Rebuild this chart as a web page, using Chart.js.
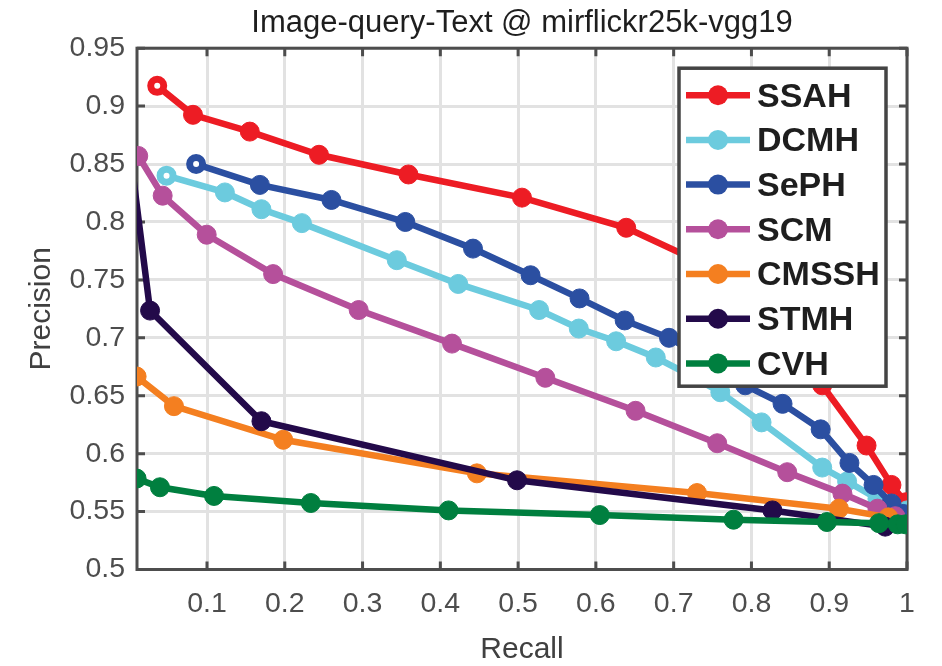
<!DOCTYPE html>
<html>
<head>
<meta charset="utf-8">
<script src="https://cdn.jsdelivr.net/npm/chart.js@4.4.1/dist/chart.umd.min.js"></script>
<style>
  html, body { margin: 0; padding: 0; background: #fff; }
  #wrap { width: 942px; height: 666px; }
</style>
</head>
<body>
<div id="wrap"><canvas id="pr" width="942" height="666"></canvas></div>
<script>
const methods = ['SSAH', 'DCMH', 'SePH', 'SCM', 'CMSSH', 'STMH', 'CVH'];
const colors = ['#ed1c24', '#6ccbde', '#2b4fa1', '#b5509b', '#f47f20', '#230a4a', '#007f3f'];

const ssahRecall = [0.036, 0.082, 0.155, 0.244, 0.359, 0.505, 0.639, 0.735, 0.815, 0.891, 0.948, 0.980, 0.998];
const ssahPrecision = [0.9175, 0.8925, 0.878, 0.858, 0.841, 0.821, 0.795, 0.765, 0.72, 0.659, 0.607, 0.573, 0.558];

const dcmhRecall = [0.048, 0.123, 0.170, 0.222, 0.344, 0.423, 0.527, 0.578, 0.626, 0.677, 0.72, 0.760, 0.813, 0.891, 0.923, 0.962, 1.0];
const dcmhPrecision = [0.840, 0.8255, 0.811, 0.799, 0.767, 0.7465, 0.724, 0.708, 0.697, 0.683, 0.668, 0.653, 0.627, 0.588, 0.576, 0.561, 0.551];

const sephRecall = [0.086, 0.168, 0.260, 0.355, 0.442, 0.516, 0.579, 0.637, 0.694, 0.745, 0.792, 0.840, 0.889, 0.926, 0.957, 0.980, 0.995];
const sephPrecision = [0.850, 0.832, 0.819, 0.800, 0.777, 0.754, 0.734, 0.715, 0.700, 0.68, 0.659, 0.643, 0.621, 0.592, 0.573, 0.557, 0.548];

const scmRecall = [0.0116, 0.043, 0.0996, 0.185, 0.295, 0.415, 0.535, 0.651, 0.756, 0.846, 0.917, 0.962, 0.985];
const scmPrecision = [0.857, 0.8227, 0.789, 0.755, 0.724, 0.695, 0.6655, 0.637, 0.609, 0.584, 0.5655, 0.5525, 0.546];

const cmsshRecall = [0.0095, 0.0575, 0.198, 0.447, 0.730, 0.9125, 0.976];
const cmsshPrecision = [0.6666, 0.641, 0.612, 0.583, 0.566, 0.5525, 0.545];

// first STMH point lies left of the axis limit, only its line shows
const stmhRecall = [0.004, 0.0268, 0.170, 0.4986, 0.827, 0.972];
const stmhPrecision = [0.845, 0.7235, 0.628, 0.577, 0.551, 0.537];

const cvhRecall = [0.0095, 0.0395, 0.109, 0.2335, 0.4106, 0.605, 0.777, 0.897, 0.964, 0.988, 0.998];
const cvhPrecision = [0.5785, 0.571, 0.5635, 0.5574, 0.551, 0.547, 0.543, 0.541, 0.540, 0.539, 0.539];

const xTicks = [0.1, 0.2, 0.3, 0.4, 0.5, 0.6, 0.7, 0.8, 0.9, 1];
const xTickLabels = ['0.1', '0.2', '0.3', '0.4', '0.5', '0.6', '0.7', '0.8', '0.9', '1'];
const yTicks = [0.5, 0.55, 0.6, 0.65, 0.7, 0.75, 0.8, 0.85, 0.9, 0.95];
const yTickLabels = ['0.5', '0.55', '0.6', '0.65', '0.7', '0.75', '0.8', '0.85', '0.9', '0.95'];

const recalls = [ssahRecall, dcmhRecall, sephRecall, scmRecall, cmsshRecall, stmhRecall, cvhRecall];
const precisions = [ssahPrecision, dcmhPrecision, sephPrecision, scmPrecision, cmsshPrecision, stmhPrecision, cvhPrecision];
const hollowFirst = ['SSAH', 'DCMH', 'SePH'];

const AXIS = '#4d4d4d';
const GRID = '#e2e2e2';
const FONT = "'Liberation Sans', Arial, Helvetica, sans-serif";

const datasets = methods.map((name, i) => {
  const n = recalls[i].length;
  const radius = Array(n).fill(9.5);
  const bg = Array(n).fill(colors[i]);
  const bw = Array(n).fill(1);
  if (hollowFirst.includes(name)) { radius[0] = 6.5; bg[0] = '#ffffff'; bw[0] = 7; }
  if (name === 'STMH') radius[0] = 0;
  return {
    label: name,
    data: recalls[i].map((r, k) => ({ x: r, y: precisions[i][k] })),
    borderColor: colors[i],
    backgroundColor: colors[i],
    borderWidth: 6.5,
    pointRadius: radius,
    pointBackgroundColor: bg,
    pointBorderColor: colors[i],
    pointBorderWidth: bw,
    tension: 0,
    order: methods.length - i,
    clip: name === 'STMH' ? { left: 0, top: false, right: false, bottom: false } : undefined
  };
});

// box, inward tick marks (drawn under the lines like matlab)
const axesBox = {
  id: 'axesBox',
  beforeDatasetsDraw(chart) {
    const { ctx, chartArea: a, scales: { x, y } } = chart;
    ctx.save();
    ctx.strokeStyle = AXIS;
    ctx.lineWidth = 3;
    ctx.strokeRect(a.left, a.top, a.right - a.left, a.bottom - a.top);
    const len = 8;
    ctx.beginPath();
    xTicks.forEach(v => {
      const px = x.getPixelForValue(v);
      ctx.moveTo(px, a.bottom); ctx.lineTo(px, a.bottom - len);
      ctx.moveTo(px, a.top); ctx.lineTo(px, a.top + len);
    });
    yTicks.forEach(v => {
      const py = y.getPixelForValue(v);
      ctx.moveTo(a.left, py); ctx.lineTo(a.left + len, py);
      ctx.moveTo(a.right, py); ctx.lineTo(a.right - len, py);
    });
    ctx.stroke();
    ctx.restore();
  }
};

// matlab style legend box inside the plot, top right
const boxLegend = {
  id: 'boxLegend',
  afterDatasetsDraw(chart) {
    const { ctx, chartArea: a } = chart;
    const x1 = a.right - 228, x2 = a.right - 21;
    const y1 = a.top + 20, y2 = a.top + 338;
    ctx.save();
    ctx.fillStyle = '#ffffff';
    ctx.fillRect(x1, y1, x2 - x1, y2 - y1);
    ctx.strokeStyle = '#444444';
    ctx.lineWidth = 3.5;
    ctx.strokeRect(x1, y1, x2 - x1, y2 - y1);
    ctx.font = `bold 34px ${FONT}`;
    ctx.textBaseline = 'middle';
    chart.data.datasets.forEach((ds, i) => {
      const cy = y1 + 27 + i * 44.7;
      ctx.strokeStyle = ds.borderColor;
      ctx.lineWidth = 6.5;
      ctx.beginPath();
      ctx.moveTo(x1 + 7, cy); ctx.lineTo(x1 + 71, cy);
      ctx.stroke();
      ctx.fillStyle = ds.borderColor;
      ctx.beginPath();
      ctx.arc(x1 + 39, cy, 10, 0, Math.PI * 2);
      ctx.fill();
      ctx.fillStyle = '#1e1e1e';
      ctx.fillText(ds.label, x1 + 78, cy + 2);
    });
    ctx.restore();
  }
};

new Chart(document.getElementById('pr'), {
  type: 'line',
  data: { datasets },
  plugins: [axesBox, boxLegend],
  options: {
    responsive: false,
    animation: false,
    layout: { padding: { top: 0, left: 0, right: 35, bottom: 0 } },
    plugins: {
      legend: { display: false },
      tooltip: { enabled: false },
      title: {
        display: true,
        fullSize: false,
        text: 'Image-query-Text @ mirflickr25k-vgg19',
        color: '#1e1e1e',
        font: { family: FONT, size: 31, weight: 'normal' },
        padding: { top: 5, bottom: 6 }
      }
    },
    scales: {
      x: {
        type: 'linear',
        min: 0.01,
        max: 1,
        afterBuildTicks: s => { s.ticks = xTicks.map(v => ({ value: v })); },
        afterFit: s => { s.height = 96.5; },
        ticks: {
          padding: 18,
          color: AXIS,
          font: { family: FONT, size: 28.5 },
          callback: (v) => xTickLabels[xTicks.indexOf(v)] ?? ''
        },
        grid: { color: GRID, lineWidth: 3, drawTicks: false },
        border: { display: false },
        title: {
          display: true,
          text: 'Recall',
          color: '#404040',
          font: { family: FONT, size: 30, lineHeight: 1 },
          padding: { top: 0, bottom: 1 }
        }
      },
      y: {
        type: 'linear',
        min: 0.5,
        max: 0.95,
        afterBuildTicks: s => { s.ticks = yTicks.map(v => ({ value: v })); },
        afterFit: s => { s.width = 137; },
        ticks: {
          padding: 12,
          color: AXIS,
          font: { family: FONT, size: 28.5 },
          callback: (v) => yTickLabels[yTicks.indexOf(v)] ?? ''
        },
        grid: { color: GRID, lineWidth: 3, drawTicks: false },
        border: { display: false },
        title: {
          display: true,
          text: 'Precision',
          color: '#404040',
          font: { family: FONT, size: 30 },
          padding: { top: 24, bottom: 0 }
        }
      }
    }
  }
});
</script>
</body>
</html>
